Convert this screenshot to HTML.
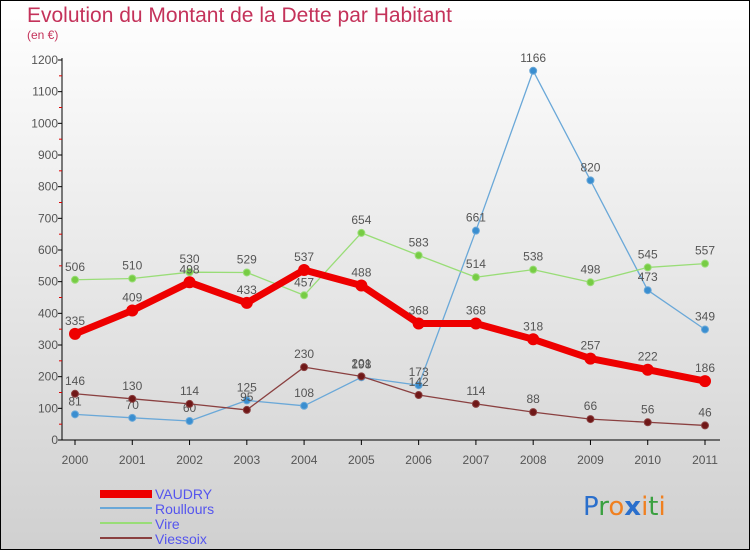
<!DOCTYPE html>
<html><head><meta charset="utf-8"><style>
html,body{margin:0;padding:0}
body{width:750px;height:550px;overflow:hidden;font-family:"Liberation Sans",sans-serif}
#wrap{position:absolute;left:0;top:0;width:748px;height:548px;border:1px solid #000;background:linear-gradient(#ffffff,#d0d0d0)}
</style></head><body>
<div id="wrap">
<svg id="chart" width="750" height="550" style="position:absolute;left:-1px;top:-1px">
<text x="27" y="22" font-size="21" fill="#c4325a">Evolution du Montant de la Dette par Habitant</text>
<text x="27" y="39" font-size="12" fill="#c4325a">(en €)</text>
<g id="axes"></g><g id="series"></g>
<g>
<rect x="100" y="490" width="52" height="8" fill="#e00"/>
<text x="155" y="499" font-size="14" fill="#5555ee">VAUDRY</text>
<rect x="100" y="507" width="52" height="2" fill="#6aa8d8"/>
<text x="155" y="514" font-size="14" fill="#5555ee">Roullours</text>
<rect x="100" y="522" width="52" height="2" fill="#99dd77"/>
<text x="155" y="529" font-size="14" fill="#5555ee">Vire</text>
<rect x="100" y="537" width="52" height="2" fill="#8a4040"/>
<text x="155" y="544" font-size="14" fill="#5555ee">Viessoix</text>
</g>
<g font-size="26" font-family="'DejaVu Sans',sans-serif">
<text x="583" y="515"><tspan fill="#2a6fcc">P</tspan><tspan fill="#3aa040">r</tspan><tspan fill="#f08020">o</tspan><tspan fill="#2a6fcc" font-weight="bold">x</tspan><tspan fill="#f08020">i</tspan><tspan fill="#3aa040">t</tspan><tspan fill="#f08020">i</tspan></text>
</g>
</svg></div>
<script>
const years=[2000,2001,2002,2003,2004,2005,2006,2007,2008,2009,2010,2011];
const yTicks=[0,100,200,300,400,500,600,700,800,900,1000,1100,1200];
const vaudry=[335,409,498,433,537,488,368,368,318,257,222,186];
const roullours=[81,70,60,125,108,198,173,661,1166,820,473,349];
const vire=[506,510,530,529,457,654,583,514,538,498,545,557];
const viessoix=[146,130,114,95,230,201,142,114,88,66,56,46];
const NS="http://www.w3.org/2000/svg";
const X=i=>75+i*(630/11), Y=v=>440-v*(380/1200);
function mk(t,a,p){const e=document.createElementNS(NS,t);for(const k in a)e.setAttribute(k,a[k]);p.appendChild(e);return e;}
const ax=document.getElementById('axes');
mk('line',{x1:62,y1:58,x2:62,y2:440,stroke:'#000'},ax);
mk('line',{x1:62,y1:440,x2:720,y2:440,stroke:'#000'},ax);
yTicks.forEach(v=>{
 mk('line',{x1:58,y1:Y(v),x2:62,y2:Y(v),stroke:'#000'},ax);
 if(v<1200) mk('line',{x1:59,y1:Y(v+50),x2:62,y2:Y(v+50),stroke:'#d00'},ax);
 const t=mk('text',{x:58,y:Y(v)+4,'font-size':12,fill:'#555','text-anchor':'end'},ax);
 
 
 t.textContent=v;
});
years.forEach((yr,i)=>{
 mk('line',{x1:X(i),y1:440,x2:X(i),y2:445,stroke:'#000'},ax);
 const t=mk('text',{x:X(i),y:464,'font-size':12,fill:'#555','text-anchor':'middle'},ax);
 
 
 t.textContent=yr;
});
const sg=document.getElementById('series');
function draw(name,data,color,w,r,dot){
 const g=mk('g',{},sg);
 
 
 mk('polyline',{points:data.map((v,i)=>X(i)+','+Y(v)).join(' '),fill:'none',stroke:color,'stroke-width':w,'stroke-linejoin':'round'},g);
 data.forEach((v,i)=>{
  const c=mk('circle',{cx:X(i),cy:Y(v),r:r,fill:dot,stroke:dot==color?'none':color},g);
  
  
  const t=mk('text',{x:X(i),y:Y(v)-9,'font-size':12,fill:'#555','text-anchor':'middle'},g);
  
  
  t.textContent=v;
 });
}
draw('roullours',roullours,'#6aa8d8',1.3,3.5,'#3a8ed0');
draw('vire',vire,'#99dd77',1.3,3.5,'#77cc44');
draw('viessoix',viessoix,'#8a4040',1.3,3.5,'#701818');
draw('vaudry',vaudry,'#ee0000',7,6,'#ee0000');
</script>
</body></html>
